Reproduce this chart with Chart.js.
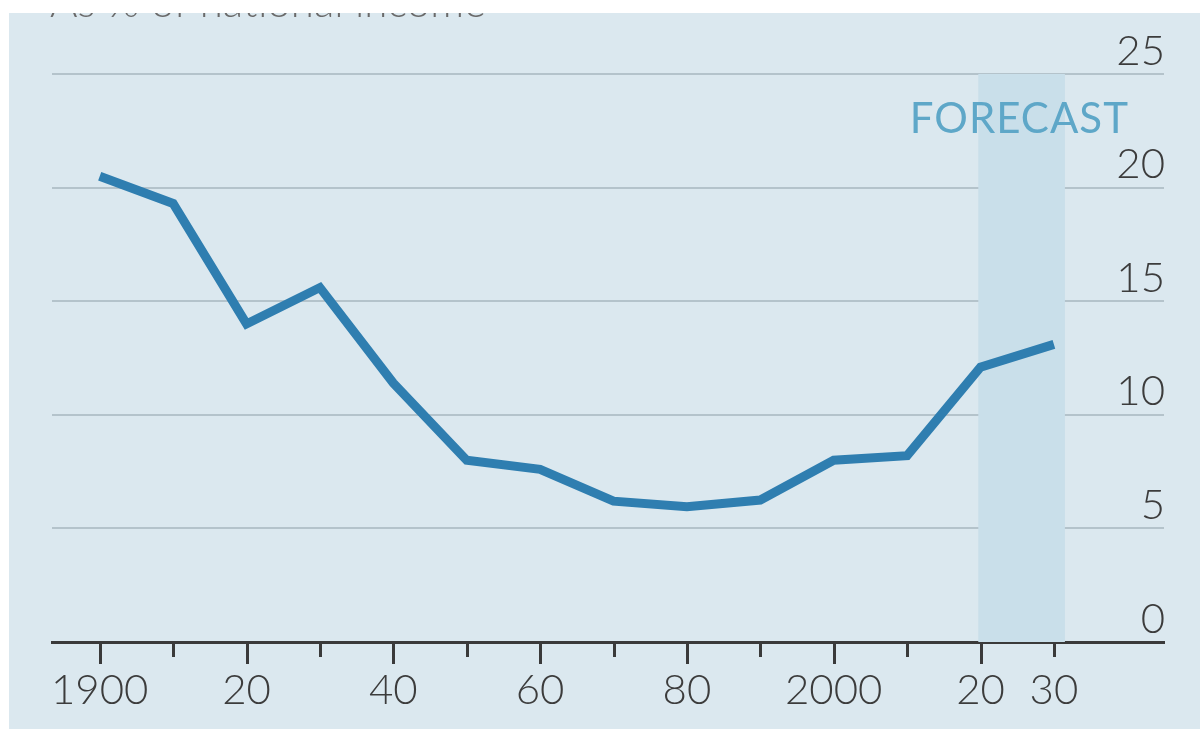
<!DOCTYPE html>
<html>
<head>
<meta charset="utf-8">
<script src="https://cdn.jsdelivr.net/npm/chart.js@4.4.1/dist/chart.umd.min.js"></script>
<style>
  html, body { margin: 0; padding: 0; background: #ffffff; }
  #wrap { position: relative; width: 1200px; height: 729px; }
</style>
</head>
<body>
<div id="wrap"><canvas id="chart" width="1200" height="729"></canvas></div>
<script>
// Share of national income, per decade, with the last point a forecast
const years = [1900, 1910, 1920, 1930, 1940, 1950, 1960, 1970, 1980, 1990, 2000, 2010, 2020, 2030];
const shares = [20.5, 19.3, 14.0, 15.6, 11.4, 8.0, 7.6, 6.2, 5.95, 6.25, 8.0, 8.2, 12.1, 13.1];
const xTickLabels = ['1900', '', '20', '', '40', '', '60', '', '80', '', '2000', '', '20', '30'];
const yTicks = [0, 5, 10, 15, 20, 25];
const forecastStart = 2019.7;
const forecastEnd = 2031.5;
const forecastLabel = 'FORECAST';
const subtitle = 'As % of national income';

const FONT = "Lato, 'Open Sans', 'DejaVu Sans', sans-serif";
const BG = '#dbe8ef';

const backdrop = {
  id: 'backdrop',
  beforeDraw(chart) {
    const ctx = chart.ctx;
    ctx.save();
    ctx.fillStyle = '#ffffff';
    ctx.fillRect(0, 0, chart.width, chart.height);
    ctx.fillStyle = BG;
    ctx.fillRect(9, 13, chart.width - 9, chart.height - 13);
    // subtitle, trimmed by the top margin
    ctx.fillStyle = '#6a6a6a';
    ctx.font = '300 42px ' + FONT;
    ctx.textAlign = 'left';
    ctx.textBaseline = 'alphabetic';
    ctx.fillText(subtitle, 50, 17);
    ctx.fillStyle = '#ffffff';
    ctx.fillRect(0, 0, chart.width, 13);
    ctx.fillRect(0, 0, 9, chart.height);
    ctx.restore();
  },
  beforeDatasetsDraw(chart) {
    const {ctx, scales: {x, y}} = chart;
    ctx.save();
    // forecast band
    const x0 = x.getPixelForValue(forecastStart);
    const x1 = x.getPixelForValue(forecastEnd);
    const yTop = y.getPixelForValue(25);
    const yBot = y.getPixelForValue(0);
    ctx.fillStyle = '#c9dfea';
    ctx.fillRect(x0, yTop, x1 - x0, yBot - yTop);
    ctx.fillStyle = '#5ea7c8';
    ctx.font = '400 42px ' + FONT;
    ctx.textAlign = 'center';
    ctx.textBaseline = 'middle';
    if ('letterSpacing' in ctx) ctx.letterSpacing = '1px';
    ctx.fillText(forecastLabel, x.getPixelForValue(2025.3), y.getPixelForValue(23.0));
    ctx.restore();
  },
  afterDraw(chart) {
    const {ctx, scales: {x, y}} = chart;
    const base = y.getPixelForValue(0);
    ctx.save();
    ctx.strokeStyle = '#3a3a3a';
    ctx.lineWidth = 3;
    years.forEach(yr => {
      const px = Math.round(x.getPixelForValue(yr)) + 0.5;
      const len = yr % 20 === 0 ? 22 : 15;
      ctx.beginPath();
      ctx.moveTo(px, base);
      ctx.lineTo(px, base + len);
      ctx.stroke();
    });
    ctx.restore();
  }
};

new Chart(document.getElementById('chart'), {
  type: 'line',
  data: {
    datasets: [{
      data: years.map((yr, i) => ({x: yr, y: shares[i]})),
      borderColor: '#2f7eb0',
      borderWidth: 9,
      borderCapStyle: 'butt',
      borderJoinStyle: 'miter',
      pointRadius: 0,
      tension: 0,
      fill: false
    }]
  },
  options: {
    responsive: false,
    animation: false,
    devicePixelRatio: 1,
    layout: { padding: { left: 52, right: 34, top: 74, bottom: 0 } },
    plugins: { legend: { display: false }, tooltip: { enabled: false }, title: { display: false } },
    scales: {
      x: {
        type: 'linear',
        min: 1893.5,
        max: 2045.0,
        afterBuildTicks(scale) { scale.ticks = years.map(v => ({value: v})); },
        afterFit(scale) { scale.height = 87; },
        grid: { display: false, drawTicks: false },
        border: { display: true, color: '#3a3a3a', width: 3 },
        ticks: {
          autoSkip: false,
          maxRotation: 0,
          padding: 23,
          color: '#3c3c3c',
          font: { family: FONT, size: 42, weight: '300' },
          callback: (v, i) => xTickLabels[i]
        }
      },
      y: {
        position: 'right',
        min: 0,
        max: 25,
        afterBuildTicks(scale) { scale.ticks = yTicks.map(v => ({value: v})); },
        grid: {
          drawTicks: false,
          color: '#b4c3cb',
          lineWidth: 2
        },
        border: { display: false },
        ticks: {
          mirror: true,
          padding: 1,
          labelOffset: -23,
          color: '#3c3c3c',
          font: { family: FONT, size: 42, weight: '300' },
          callback: v => String(v)
        }
      }
    }
  },
  plugins: [backdrop]
});
</script>
</body>
</html>
